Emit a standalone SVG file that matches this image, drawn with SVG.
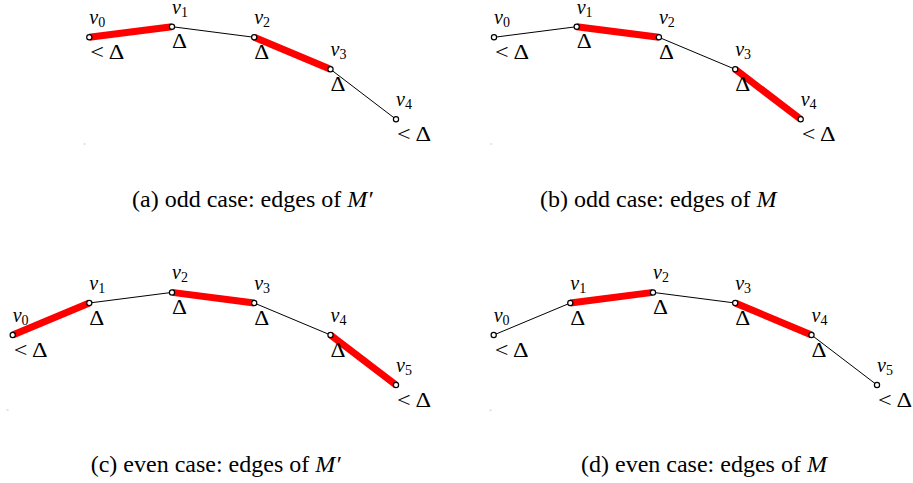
<svg xmlns="http://www.w3.org/2000/svg" width="913" height="483" viewBox="0 0 913 483" font-family="'Liberation Serif','Times New Roman','DejaVu Serif',serif">
<style>
.thin{stroke:#000;stroke-width:1;fill:none}
.thick{stroke:#ff0000;stroke-width:7;stroke-linecap:butt;fill:none}
.node{fill:#fff;stroke:#000;stroke-width:1.2}
text{font-family:'Liberation Serif','Times New Roman','DejaVu Serif',serif;fill:#000}
.lbl{font-size:20px;font-style:italic}
.sub{font-size:14px;font-style:normal}
.dl{font-size:20px}
.cap{font-size:24px}
.it{font-style:italic}
.dot{fill:#c8c8c8}
</style>
<rect width="913" height="483" fill="#fff"/>

<!-- Panel (a) -->
<g id="panel-a">
  <g id="a-edges">
    <line class="thick" x1="89.3" y1="37.3" x2="172" y2="26.7"/>
    <line class="thin" x1="172" y1="26.7" x2="254.2" y2="37.3"/>
    <line class="thick" x1="254.2" y1="37.3" x2="330.5" y2="69.3"/>
    <line class="thin" x1="330.5" y1="69.3" x2="396" y2="119.3"/>
  </g>
  <g id="a-v0"><circle class="node" cx="89.3" cy="37.3" r="2.6"/><text class="lbl" x="89.3" y="24">v<tspan class="sub" dy="3">0</tspan></text><text class="dl" x="90.3" y="59.3" textLength="34" lengthAdjust="spacingAndGlyphs">&lt; Δ</text></g>
  <g id="a-v1"><circle class="node" cx="172" cy="26.7" r="2.6"/><text class="lbl" x="172" y="14">v<tspan class="sub" dy="3">1</tspan></text><text class="dl" x="172" y="48.4" textLength="15" lengthAdjust="spacingAndGlyphs">Δ</text></g>
  <g id="a-v2"><circle class="node" cx="254.2" cy="37.3" r="2.6"/><text class="lbl" x="254.2" y="24">v<tspan class="sub" dy="3">2</tspan></text><text class="dl" x="254.2" y="59" textLength="15" lengthAdjust="spacingAndGlyphs">Δ</text></g>
  <g id="a-v3"><circle class="node" cx="330.5" cy="69.3" r="2.6"/><text class="lbl" x="330.5" y="56">v<tspan class="sub" dy="3">3</tspan></text><text class="dl" x="330.5" y="91" textLength="15" lengthAdjust="spacingAndGlyphs">Δ</text></g>
  <g id="a-v4"><circle class="node" cx="396" cy="119.3" r="2.6"/><text class="lbl" x="396" y="106">v<tspan class="sub" dy="3">4</tspan></text><text class="dl" x="397" y="141.3" textLength="34" lengthAdjust="spacingAndGlyphs">&lt; Δ</text></g>
  <rect class="dot" x="83.5" y="143.5" width="2" height="1"/>
  <text class="cap" x="132" y="206.7">(a) odd case: edges of <tspan class="it">M′</tspan></text>
</g>

<!-- Panel (b) -->
<g id="panel-b" transform="translate(404.7,0)">
  <g id="b-edges">
    <line class="thin" x1="89.3" y1="37.3" x2="172" y2="26.7"/>
    <line class="thick" x1="172" y1="26.7" x2="254.2" y2="37.3"/>
    <line class="thin" x1="254.2" y1="37.3" x2="330.5" y2="69.3"/>
    <line class="thick" x1="330.5" y1="69.3" x2="396" y2="119.3"/>
  </g>
  <g id="b-v0"><circle class="node" cx="89.3" cy="37.3" r="2.6"/><text class="lbl" x="89.3" y="24">v<tspan class="sub" dy="3">0</tspan></text><text class="dl" x="90.3" y="59.3" textLength="34" lengthAdjust="spacingAndGlyphs">&lt; Δ</text></g>
  <g id="b-v1"><circle class="node" cx="172" cy="26.7" r="2.6"/><text class="lbl" x="172" y="14">v<tspan class="sub" dy="3">1</tspan></text><text class="dl" x="172" y="48.4" textLength="15" lengthAdjust="spacingAndGlyphs">Δ</text></g>
  <g id="b-v2"><circle class="node" cx="254.2" cy="37.3" r="2.6"/><text class="lbl" x="254.2" y="24">v<tspan class="sub" dy="3">2</tspan></text><text class="dl" x="254.2" y="59" textLength="15" lengthAdjust="spacingAndGlyphs">Δ</text></g>
  <g id="b-v3"><circle class="node" cx="330.5" cy="69.3" r="2.6"/><text class="lbl" x="330.5" y="56">v<tspan class="sub" dy="3">3</tspan></text><text class="dl" x="330.5" y="91" textLength="15" lengthAdjust="spacingAndGlyphs">Δ</text></g>
  <g id="b-v4"><circle class="node" cx="396" cy="119.3" r="2.6"/><text class="lbl" x="396" y="106">v<tspan class="sub" dy="3">4</tspan></text><text class="dl" x="397" y="141.3" textLength="34" lengthAdjust="spacingAndGlyphs">&lt; Δ</text></g>
  <rect class="dot" x="85.5" y="143.5" width="2" height="1"/>
  <text class="cap" x="135.3" y="206.7">(b) odd case: edges of <tspan class="it">M</tspan></text>
</g>

<!-- Panel (c) -->
<g id="panel-c" transform="translate(0,265.7)">
  <g id="c-edges">
    <line class="thick" x1="12.7" y1="69.3" x2="89.3" y2="37.3"/>
    <line class="thin" x1="89.3" y1="37.3" x2="172" y2="26.7"/>
    <line class="thick" x1="172" y1="26.7" x2="254.2" y2="37.3"/>
    <line class="thin" x1="254.2" y1="37.3" x2="330.5" y2="69.3"/>
    <line class="thick" x1="330.5" y1="69.3" x2="396" y2="119.3"/>
  </g>
  <g id="c-v0"><circle class="node" cx="12.7" cy="69.3" r="2.6"/><text class="lbl" x="12.7" y="56">v<tspan class="sub" dy="3">0</tspan></text><text class="dl" x="13.7" y="91.3" textLength="34" lengthAdjust="spacingAndGlyphs">&lt; Δ</text></g>
  <g id="c-v1"><circle class="node" cx="89.3" cy="37.3" r="2.6"/><text class="lbl" x="89.3" y="24">v<tspan class="sub" dy="3">1</tspan></text><text class="dl" x="89.3" y="59" textLength="15" lengthAdjust="spacingAndGlyphs">Δ</text></g>
  <g id="c-v2"><circle class="node" cx="172" cy="26.7" r="2.6"/><text class="lbl" x="172" y="13.4">v<tspan class="sub" dy="3">2</tspan></text><text class="dl" x="172" y="48.4" textLength="15" lengthAdjust="spacingAndGlyphs">Δ</text></g>
  <g id="c-v3"><circle class="node" cx="254.2" cy="37.3" r="2.6"/><text class="lbl" x="254.2" y="24">v<tspan class="sub" dy="3">3</tspan></text><text class="dl" x="254.2" y="59" textLength="15" lengthAdjust="spacingAndGlyphs">Δ</text></g>
  <g id="c-v4"><circle class="node" cx="330.5" cy="69.3" r="2.6"/><text class="lbl" x="330.5" y="56">v<tspan class="sub" dy="3">4</tspan></text><text class="dl" x="330.5" y="91" textLength="15" lengthAdjust="spacingAndGlyphs">Δ</text></g>
  <g id="c-v5"><circle class="node" cx="396" cy="119.3" r="2.6"/><text class="lbl" x="396" y="106">v<tspan class="sub" dy="3">5</tspan></text><text class="dl" x="397" y="141.3" textLength="34" lengthAdjust="spacingAndGlyphs">&lt; Δ</text></g>
  <rect class="dot" x="6.5" y="143.8" width="2" height="1"/>
  <text class="cap" x="90.7" y="206">(c) even case: edges of <tspan class="it">M′</tspan></text>
</g>

<!-- Panel (d) -->
<g id="panel-d" transform="translate(481,265.7)">
  <g id="d-edges">
    <line class="thin" x1="12.7" y1="69.3" x2="89.3" y2="37.3"/>
    <line class="thick" x1="89.3" y1="37.3" x2="172" y2="26.7"/>
    <line class="thin" x1="172" y1="26.7" x2="254.2" y2="37.3"/>
    <line class="thick" x1="254.2" y1="37.3" x2="330.5" y2="69.3"/>
    <line class="thin" x1="330.5" y1="69.3" x2="396" y2="119.3"/>
  </g>
  <g id="d-v0"><circle class="node" cx="12.7" cy="69.3" r="2.6"/><text class="lbl" x="12.7" y="56">v<tspan class="sub" dy="3">0</tspan></text><text class="dl" x="13.7" y="91.3" textLength="34" lengthAdjust="spacingAndGlyphs">&lt; Δ</text></g>
  <g id="d-v1"><circle class="node" cx="89.3" cy="37.3" r="2.6"/><text class="lbl" x="89.3" y="24">v<tspan class="sub" dy="3">1</tspan></text><text class="dl" x="89.3" y="59" textLength="15" lengthAdjust="spacingAndGlyphs">Δ</text></g>
  <g id="d-v2"><circle class="node" cx="172" cy="26.7" r="2.6"/><text class="lbl" x="172" y="13.4">v<tspan class="sub" dy="3">2</tspan></text><text class="dl" x="172" y="48.4" textLength="15" lengthAdjust="spacingAndGlyphs">Δ</text></g>
  <g id="d-v3"><circle class="node" cx="254.2" cy="37.3" r="2.6"/><text class="lbl" x="254.2" y="24">v<tspan class="sub" dy="3">3</tspan></text><text class="dl" x="254.2" y="59" textLength="15" lengthAdjust="spacingAndGlyphs">Δ</text></g>
  <g id="d-v4"><circle class="node" cx="330.5" cy="69.3" r="2.6"/><text class="lbl" x="330.5" y="56">v<tspan class="sub" dy="3">4</tspan></text><text class="dl" x="330.5" y="91" textLength="15" lengthAdjust="spacingAndGlyphs">Δ</text></g>
  <g id="d-v5"><circle class="node" cx="396" cy="119.3" r="2.6"/><text class="lbl" x="396" y="106">v<tspan class="sub" dy="3">5</tspan></text><text class="dl" x="397" y="141.3" textLength="34" lengthAdjust="spacingAndGlyphs">&lt; Δ</text></g>
  <rect class="dot" x="8.5" y="144" width="2" height="1"/>
  <text class="cap" x="100" y="206">(d) even case: edges of <tspan class="it">M</tspan></text>
</g>
</svg>
